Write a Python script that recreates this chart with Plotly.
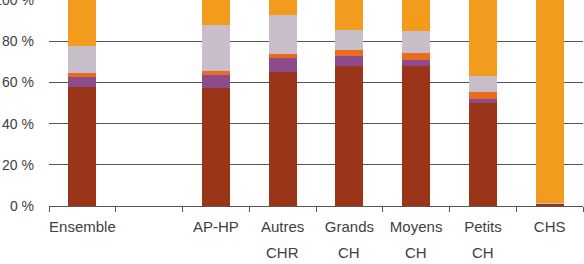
import plotly.graph_objects as go

categories = ["Ensemble", "", "AP-HP", "Autres CHR", "Grands CH", "Moyens CH", "Petits CH", "CHS"]
serie1 = [57.7, None, 57.2, 65.0, 67.9, 67.9, 50.2, 1.0]
serie2 = [4.9, None, 6.3, 6.8, 4.8, 3.2, 1.7, 0.0]
serie3 = [1.9, None, 2.0, 1.9, 2.9, 3.4, 3.6, 0.0]
serie4 = [13.4, None, 22.6, 19.0, 10.0, 10.6, 7.5, 0.5]
serie5 = [22.1, None, 11.9, 7.3, 14.4, 14.9, 37.0, 98.5]
series = [serie1, serie2, serie3, serie4, serie5]
names = ["Série 1", "Série 2", "Série 3", "Série 4", "Série 5"]
colors = ["#9B3519", "#8C4C8C", "#EA6A1E", "#C8BEC9", "#F39B1D"]
yticks = [0, 20, 40, 60, 80, 100]
yticktext = ["0 %", "20 %", "40 %", "60 %", "80 %", "100 %"]

xpos = list(range(len(categories)))
first_lines = [c.split(" ")[0] if c else "" for c in categories]
second_lines = [c.split(" ", 1)[1] if " " in c else "" for c in categories]

fig = go.Figure()
for vals, nm, col in zip(series, names, colors):
    fig.add_trace(go.Bar(x=xpos, y=vals, name=nm, marker=dict(color=col, line=dict(width=0)),
                         width=0.42, showlegend=False))

for xp, txt in zip(xpos, second_lines):
    if txt:
        fig.add_annotation(x=xp, y=0, xref="x", yref="paper", text=txt, showarrow=False,
                           yanchor="middle", yshift=-46,
                           font=dict(family="Liberation Sans, Arial, sans-serif", size=15, color="#404040"))

fig.update_layout(
    barmode="stack",
    width=584, height=264,
    margin=dict(l=49, r=1, t=0, b=58, autoexpand=False),
    plot_bgcolor="white", paper_bgcolor="white",
    font=dict(family="Liberation Sans, Arial, sans-serif", size=14, color="#404040"),
    xaxis=dict(range=[-0.5, len(categories) - 0.5], tickvals=xpos, ticktext=first_lines,
               showline=True, linecolor="#555555", linewidth=1,
               ticks="", tickangle=0, automargin=False, ticklabelstandoff=7,
               showgrid=False, tickfont=dict(size=15, color="#404040"),
               minor=dict(tickvals=[p - 0.5 for p in xpos] + [xpos[-1] + 0.5], ticks="outside",
                          ticklen=5, tickcolor="#555555", showgrid=False)),
    yaxis=dict(range=[0, 100], tickvals=yticks, ticktext=yticktext,
               showgrid=True, gridcolor="#555555", gridwidth=1, automargin=False,
               zeroline=False, showline=False, ticks="", ticklabelstandoff=14,
               ticklabeloverflow="allow",
               tickfont=dict(size=14, color="#404040")),
)
fig.write_html("out.html")
